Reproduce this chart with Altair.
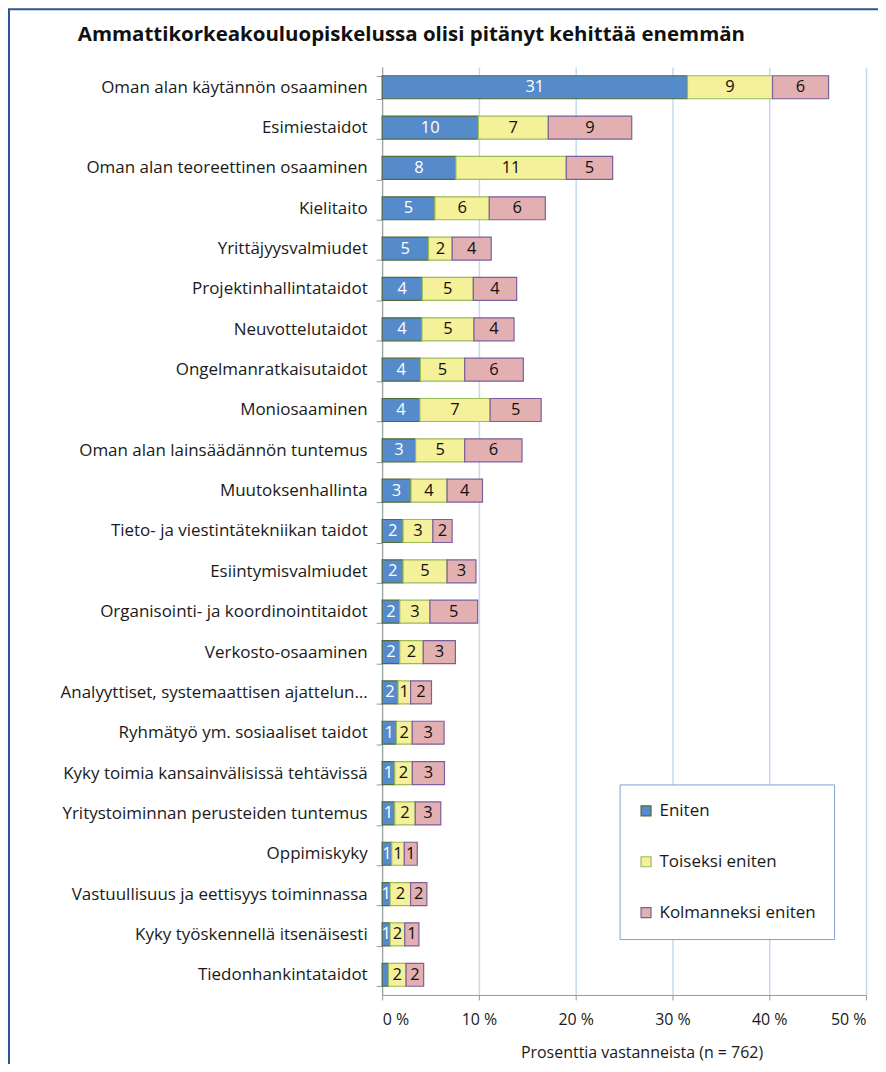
import altair as alt
import pandas as pd

categories = [
    "Oman alan käytännön osaaminen",
    "Esimiestaidot",
    "Oman alan teoreettinen osaaminen",
    "Kielitaito",
    "Yrittäjyysvalmiudet",
    "Projektinhallintataidot",
    "Neuvottelutaidot",
    "Ongelmanratkaisutaidot",
    "Moniosaaminen",
    "Oman alan lainsäädännön tuntemus",
    "Muutoksenhallinta",
    "Tieto- ja viestintätekniikan taidot",
    "Esiintymisvalmiudet",
    "Organisointi- ja koordinointitaidot",
    "Verkosto-osaaminen",
    "Analyyttiset, systemaattisen ajattelun…",
    "Ryhmätyö ym. sosiaaliset taidot",
    "Kyky toimia kansainvälisissä tehtävissä",
    "Yritystoiminnan perusteiden tuntemus",
    "Oppimiskyky",
    "Vastuullisuus ja eettisyys toiminnassa",
    "Kyky työskennellä itsenäisesti",
    "Tiedonhankintataidot",
]
series = ["Eniten", "Toiseksi eniten", "Kolmanneksi eniten"]

eniten = [31.55, 9.93, 7.62, 5.45, 4.79, 4.14, 4.11, 3.94, 3.90, 3.46, 2.98, 2.16,
          2.16, 1.82, 1.82, 1.64, 1.47, 1.30, 1.30, 0.99, 0.82, 0.82, 0.65]
toiseksi = [8.79, 7.24, 11.41, 5.62, 2.45, 5.28, 5.38, 4.59, 7.26, 5.07, 3.73, 3.08,
            4.55, 3.12, 2.43, 1.30, 1.64, 1.82, 2.12, 1.30, 2.12, 1.52, 1.82]
kolmanneksi = [5.79, 8.62, 4.79, 5.79, 4.03, 4.48, 4.14, 6.06, 5.27, 5.92, 3.66, 1.99,
               2.98, 4.93, 3.32, 2.16, 3.29, 3.32, 2.64, 1.34, 1.68, 1.46, 1.82]

lab_eniten = ["31", "10", "8", "5", "5", "4", "4", "4", "4", "3", "3", "2",
              "2", "2", "2", "2", "1", "1", "1", "1", "1", "1", ""]
lab_toiseksi = ["9", "7", "11", "6", "2", "5", "5", "5", "7", "5", "4", "3",
                "5", "3", "2", "1", "2", "2", "2", "1", "2", "2", "2"]
lab_kolmanneksi = ["6", "9", "5", "6", "4", "4", "4", "6", "5", "6", "4", "2",
                   "3", "5", "3", "2", "3", "3", "3", "1", "2", "1", "2"]

fills = ["#558ACB", "#F5F09A", "#E3B0B2"]
strokes = ["#4F6B3A", "#9BBB59", "#7B5E9E"]
text_colors = ["white", "#111111", "#111111"]

rows = []
for i, cat in enumerate(categories):
    start = 0.0
    for k, (vals, labs) in enumerate([(eniten, lab_eniten), (toiseksi, lab_toiseksi),
                                       (kolmanneksi, lab_kolmanneksi)]):
        v = vals[i]
        rows.append(dict(cat=cat, series=series[k], value=v, start=start, end=start + v,
                         mid=start + v / 2, label=labs[i], tc=text_colors[k], order=k))
        start += v
df = pd.DataFrame(rows)

FONT = "Open Sans"

yenc = alt.Y(
    "cat:N", sort=categories, title=None,
    scale=alt.Scale(paddingInner=0.43, paddingOuter=0.215),
    axis=alt.Axis(tickBand="extent", tickSize=6, tickColor="#999999", domainColor="#999999",
                  labelFontSize=17, labelColor="#1a1a1a", labelPadding=9, labelLimit=400,
                  labelFont=FONT, grid=False),
)
xenc_axis = alt.Axis(values=[0, 10, 20, 30, 40, 50], labelExpr="datum.value + ' %'",
                     grid=True, gridColor="#C6D9F0", gridWidth=1.5,
                     domainColor="#999999", tickColor="#999999", tickSize=5,
                     labelFontSize=16, labelColor="#1a1a1a", labelPadding=12, labelFont=FONT,
                     title="Prosenttia vastanneista (n = 762)", titleFontSize=16,
                     titleFontWeight="normal", titleColor="#1a1a1a", titlePadding=17,
                     titleFont=FONT, titleX=260)

legend = alt.Legend(title=None, orient="none", legendX=238, legendY=719,
                    symbolType="square", symbolSize=100, symbolStrokeWidth=1.2,
                    labelFontSize=17, labelFont=FONT, labelColor="#1a1a1a",
                    rowPadding=33, padding=18, strokeColor="#7EA1D6",
                    fillColor="white", labelOffset=5, labelLimit=300)

bars = alt.Chart(df).mark_bar(strokeWidth=1.2).encode(
    x=alt.X("start:Q", scale=alt.Scale(domain=[0, 50], nice=False), axis=xenc_axis),
    x2="end:Q",
    y=yenc,
    color=alt.Color("series:N", scale=alt.Scale(domain=series, range=fills), legend=legend),
    stroke=alt.Stroke("series:N", scale=alt.Scale(domain=series, range=strokes), legend=legend),
    order="order:Q",
)

texts = alt.Chart(df).mark_text(fontSize=16.5, font=FONT).encode(
    x="mid:Q",
    y=alt.Y("cat:N", sort=categories),
    text="label:N",
    color=alt.Color("tc:N", scale=None),
)

border = alt.Chart(pd.DataFrame({"a": [0]})).mark_rect(
    fillOpacity=0, stroke="#2F5597", strokeWidth=2
).encode(x=alt.value(-374), x2=alt.value(900), y=alt.value(-58), y2=alt.value(1200))

chart = alt.layer(bars, texts, border).properties(
    width=485, height=930,
    padding={"left": 375, "top": 58, "right": 12, "bottom": 68},
    autosize=alt.AutoSizeParams(type="none"),
    title=alt.Title("Ammattikorkeakouluopiskelussa olisi pitänyt kehittää enemmän",
                    anchor="start", frame="group", dx=-305, offset=-37, fontSize=20.5,
                    fontWeight="bold", font=FONT, color="#111111"),
).configure_view(stroke=None)

chart.save("out.html", embed_options={"renderer": "svg", "actions": False})
